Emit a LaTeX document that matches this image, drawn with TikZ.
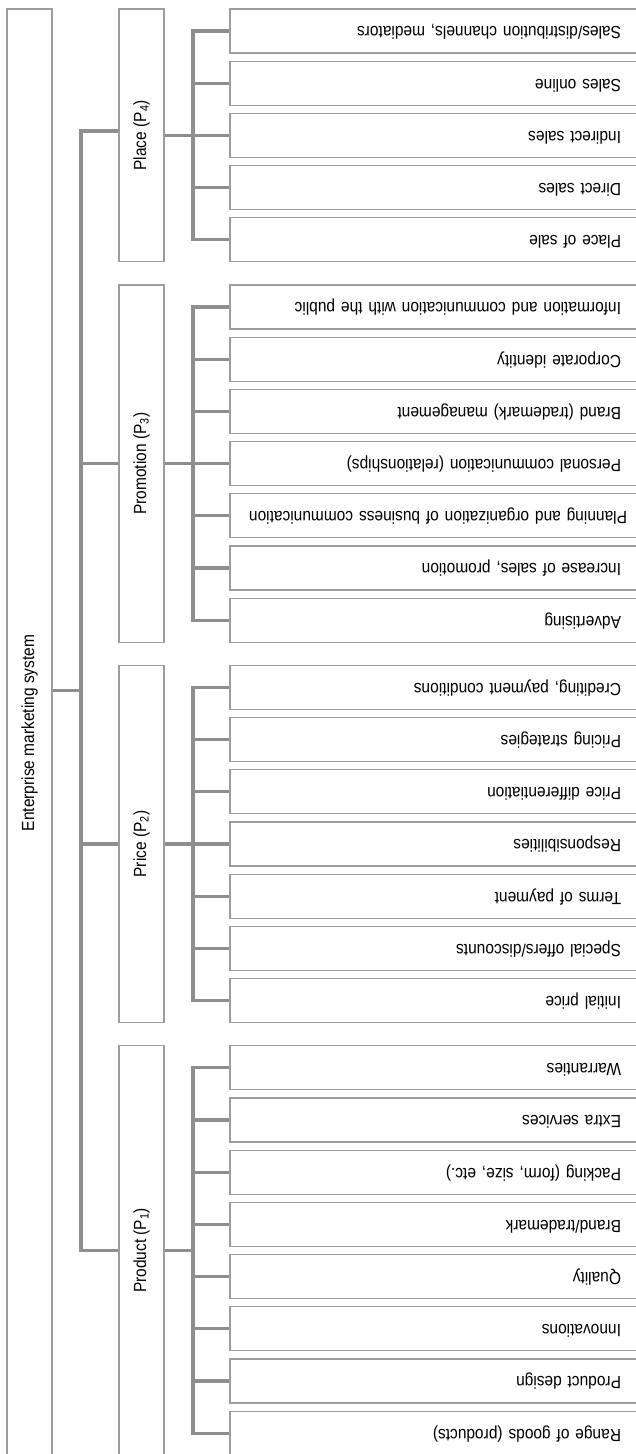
\documentclass[tikz,border=0pt]{standalone}
\usepackage{fontspec}
\setmainfont{Liberation Sans}[FakeStretch=0.88]
\usetikzlibrary{positioning}
\definecolor{boxgray}{HTML}{9D9D9D}
\definecolor{linkgray}{HTML}{8E8E8E}

\begin{document}
\begin{tikzpicture}[x=1pt,y=-1pt,font=\fontsize{17.6}{21}\selectfont,
  box/.style={draw=boxgray,line width=1.2pt,inner sep=0pt,fill=white},
  pbox/.style={box,minimum width=45pt},
  leaf/.style={box,minimum width=410pt,minimum height=44pt,text width=372pt,align=right},
  link/.style={draw=linkgray,line width=3.3pt}]
\useasboundingbox (0,0) rectangle (636,1454);
\clip (0,0) rectangle (636,1454);
% root
\node[box,minimum width=45pt,minimum height=1448pt] (root) at (29.5,733) {\rotatebox{90}{Enterprise marketing system}};
% the four P
\node[pbox,minimum height=252.8pt] (p4) at (141.5,135.4) {\rotatebox{90}{Place (P\textsubscript{4})}};
\node[pbox,minimum height=357.2pt] (p3) at (141.5,463.6) {\rotatebox{90}{Promotion (P\textsubscript{3})}};
\node[pbox,minimum height=357.2pt] (p2) at (141.5,844) {\rotatebox{90}{Price (P\textsubscript{2})}};
\node[pbox,minimum height=409.4pt] (p1) at (141.5,1250.5) {\rotatebox{90}{Product (P\textsubscript{1})}};
% place
\node[leaf] (l41) at (435,31) {\rotatebox{180}{\strut Sales/distribution channels, mediators}};
\node[leaf] (l42) at (435,83.2) {\rotatebox{180}{\strut Sales online}};
\node[leaf] (l43) at (435,135.4) {\rotatebox{180}{\strut Indirect sales}};
\node[leaf] (l44) at (435,187.6) {\rotatebox{180}{\strut Direct sales}};
\node[leaf] (l45) at (435,239.8) {\rotatebox{180}{\strut Place of sale}};
% promotion
\node[leaf] (l31) at (435,307) {\rotatebox{180}{\strut Information and communication with the public}};
\node[leaf] (l32) at (435,359.2) {\rotatebox{180}{\strut Corporate identity}};
\node[leaf] (l33) at (435,411.4) {\rotatebox{180}{\strut Brand (trademark) management}};
\node[leaf] (l34) at (435,463.6) {\rotatebox{180}{\strut Personal communication (relationships)}};
\node[leaf] (l35) at (435,515.8) {\rotatebox{180}{\strut Planning and organization of business communication}};
\node[leaf] (l36) at (435,568) {\rotatebox{180}{\strut Increase of sales, promotion}};
\node[leaf] (l37) at (435,620.2) {\rotatebox{180}{\strut Advertising}};
% price
\node[leaf] (l21) at (435,687.4) {\rotatebox{180}{\strut Crediting, payment conditions}};
\node[leaf] (l22) at (435,739.6) {\rotatebox{180}{\strut Pricing strategies}};
\node[leaf] (l23) at (435,791.8) {\rotatebox{180}{\strut Price differentiation}};
\node[leaf] (l24) at (435,844) {\rotatebox{180}{\strut Responsibilities}};
\node[leaf] (l25) at (435,896.2) {\rotatebox{180}{\strut Terms of payment}};
\node[leaf] (l26) at (435,948.4) {\rotatebox{180}{\strut Special offers/discounts}};
\node[leaf] (l27) at (435,1000.6) {\rotatebox{180}{\strut Initial price}};
% product
\node[leaf] (l11) at (435,1067.8) {\rotatebox{180}{\strut Warranties}};
\node[leaf] (l12) at (435,1120) {\rotatebox{180}{\strut Extra services}};
\node[leaf] (l13) at (435,1172.2) {\rotatebox{180}{\strut Packing (form, size, etc.)}};
\node[leaf] (l14) at (435,1224.4) {\rotatebox{180}{\strut Brand/trademark}};
\node[leaf] (l15) at (435,1276.6) {\rotatebox{180}{\strut Quality}};
\node[leaf] (l16) at (435,1328.8) {\rotatebox{180}{\strut Innovations}};
\node[leaf] (l17) at (435,1381) {\rotatebox{180}{\strut Product design}};
\node[leaf] (l18) at (435,1433.2) {\rotatebox{180}{\strut Range of goods (products)}};
% root to the P
\coordinate (t4) at (81,131);
\coordinate (t) at (81,690.75);
\draw[link] (root.east |- t) -- (t);
\draw[link] (t4 -| p4.west) -- (t4) -- (t |- p1) -- (p1.west);
\draw[link] (t |- p3) -- (p3.west);
\draw[link] (t |- p2) -- (p2.west);
% P to the leaves
\coordinate (j4) at (193,135.4);
\draw[link] (p4.east) -- (j4);
\draw[link] (l41.west) -- (j4 |- l41) -- (j4 |- l45) -- (l45.west);
\draw[link] (j4 |- l42) -- (l42.west) (j4 |- l43) -- (l43.west) (j4 |- l44) -- (l44.west);
\coordinate (j3) at (193,463.6);
\draw[link] (p3.east) -- (j3);
\draw[link] (l31.west) -- (j3 |- l31) -- (j3 |- l37) -- (l37.west);
\draw[link] (j3 |- l32) -- (l32.west) (j3 |- l33) -- (l33.west) (j3 |- l34) -- (l34.west) (j3 |- l35) -- (l35.west) (j3 |- l36) -- (l36.west);
\coordinate (j2) at (193,844);
\draw[link] (p2.east) -- (j2);
\draw[link] (l21.west) -- (j2 |- l21) -- (j2 |- l27) -- (l27.west);
\draw[link] (j2 |- l22) -- (l22.west) (j2 |- l23) -- (l23.west) (j2 |- l24) -- (l24.west) (j2 |- l25) -- (l25.west) (j2 |- l26) -- (l26.west);
\coordinate (j1) at (193,1250.5);
\draw[link] (p1.east) -- (j1);
\draw[link] (l11.west) -- (j1 |- l11) -- (j1 |- l18) -- (l18.west);
\draw[link] (j1 |- l12) -- (l12.west) (j1 |- l13) -- (l13.west) (j1 |- l14) -- (l14.west) (j1 |- l15) -- (l15.west) (j1 |- l16) -- (l16.west) (j1 |- l17) -- (l17.west);
\end{tikzpicture}
\end{document}
